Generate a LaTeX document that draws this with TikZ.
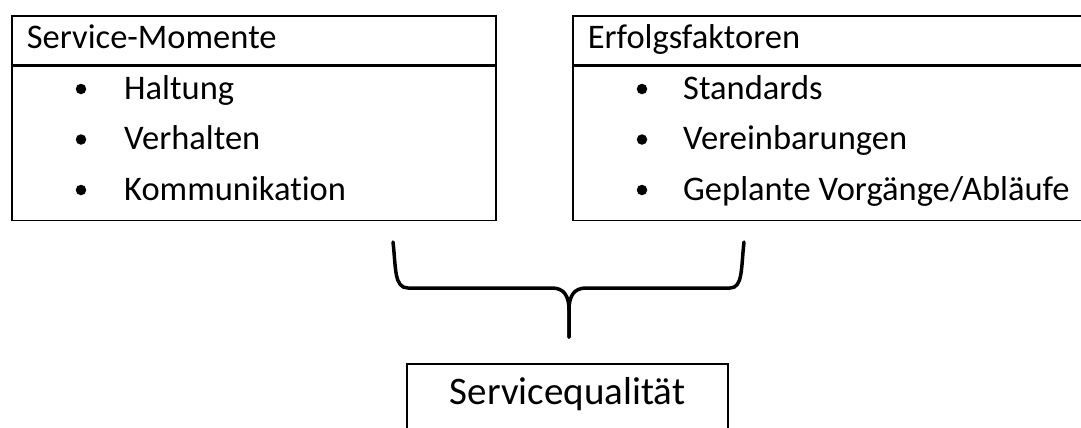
\documentclass[tikz,border=0pt]{standalone}
\usepackage{fontspec}
\setmainfont{Carlito}[Ligatures=NoCommon]
\usepackage{tikz}
\usetikzlibrary{positioning}

\begin{document}
\begin{tikzpicture}[x=1bp,y=-1bp,
    boxline/.style={draw, line width=1.6bp},
    headbox/.style={boxline, anchor=north west, inner xsep=15bp, inner ysep=11bp,
        text height=22bp, text depth=5bp, align=left, font=\fontsize{34.5bp}{40bp}\selectfont},
    bodybox/.style={boxline, anchor=north west, minimum height=154bp},
    dot/.style={circle, fill, inner sep=0pt, minimum size=10.5bp},
    item/.style={anchor=base west, inner sep=0pt, font=\fontsize{34.5bp}{40bp}\selectfont},
    bracket/.style={line width=3.5bp, line cap=round, line join=round}]
    \useasboundingbox (0,0) rectangle (1081,427);
    % left box
    \node[headbox, text width=454bp] (mhead) at (11,15) {Service-Momente};
    \node[bodybox, minimum width=484bp] (mbody) at (mhead.south west) {};
    \foreach \txt [count=\i] in {Haltung, Verhalten, Kommunikation} {
        \node[dot] (mdot\i) at (81,38.5+50.5*\i) {};
        \node[item] (mitem\i) at (124,48.5+50.5*\i) {\txt};
    }
    % right box (runs off the page)
    \node[headbox, text width=486bp] (ehead) at (572,15) {Erfolgsfaktoren};
    \node[bodybox, minimum width=518bp] (ebody) at (ehead.south west) {};
    \foreach \txt [count=\i] in {Standards, Vereinbarungen, Geplante Vorgänge/Abläufe} {
        \node[dot] (edot\i) at (642,38.5+50.5*\i) {};
        \node[item] (eitem\i) at (683,48.5+50.5*\i) {\txt};
    }
    % brace
    \coordinate (bl) at (393,242);
    \coordinate (br) at (744,242);
    \coordinate (tip) at (569,337);
    \draw[bracket] (bl) .. controls (396,268) and (394,288) .. (408,288) -- (552,288)
        .. controls (564,288) and (569,296) .. (569,310) -- (tip);
    \draw[bracket] (br) .. controls (741,268) and (743,288) .. (730,288) -- (586,288)
        .. controls (574,288) and (569,296) .. (569,310) -- (tip);
    % result
    \node[boxline, anchor=north, minimum width=321bp, inner ysep=14bp, text height=27bp,
        text depth=40bp, font=\fontsize{39bp}{46bp}\selectfont] (qual) at (567.5,363) {Servicequalität};
\end{tikzpicture}
\end{document}
